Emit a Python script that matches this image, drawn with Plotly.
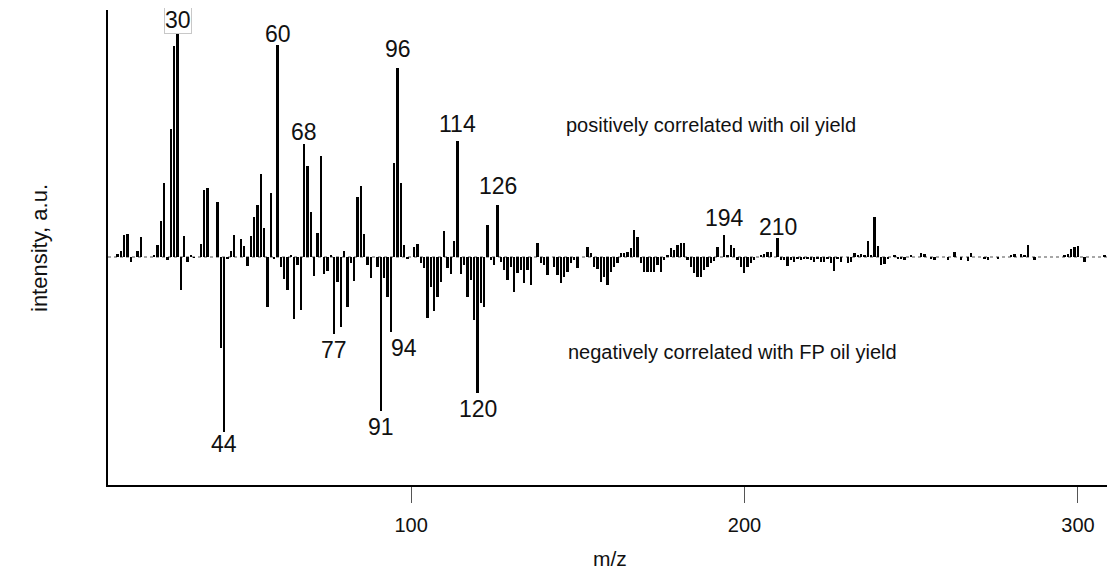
import plotly.graph_objects as go

# m/z positions (integer masses)
mz = list(range(12, 311))

# intensities (a.u.), in chunks
int_12_59 = [3, 6, 22, 23, -5, 0, 6, 20, 0, 0, 0, 2, 12, 36, 74, -3, 128, 211, 224, -33,
             21, -5, 2, -1, 0, 13, 67, 69, 0, 0, 55, -91, -175, -2, 6, 22, 0, 18, 11, -9,
             21, 40, 52, 83, 29, -50, 64, -2]
int_60_109 = [212, -10, -22, -33, 2, -62, -8, -53, 113, 91, 45, -19, 24, 101, -17, -14, 2, -77, -25, -70,
              6, -50, -6, -24, 60, 71, 23, -8, -21, 0, -10, -154, -21, -40, -75, 94, 189, 74, 12, -2,
              0, 10, 13, -6, -11, -61, -30, -54, -40, -25]
int_110_159 = [26, -11, -17, 16, 116, -17, -8, -40, -23, -63, -136, -46, -50, 32, -3, -8, 52, -5, -13, -23,
               -10, -35, -16, -13, -26, -13, -28, 0, 14, -6, -8, -18, 0, -10, -18, -26, -20, -15, -6, -3,
               -11, 0, 0, 10, 4, -10, -12, -25, -20, -28]
int_160_209 = [-15, -10, -6, 4, 4, 5, 9, 27, 20, -6, -15, -15, -15, -15, -8, -15, -3, 2, 9, 7,
               12, 14, 14, -3, -10, -16, -20, -20, -13, -10, -6, -4, 10, 0, 22, 2, 12, 9, -3, -10,
               -16, -10, -6, -3, 0, 2, 3, 5, 5, 0]
int_210_259 = [19, -3, -3, -9, -3, -5, -2, -3, -2, -2, -3, -5, -2, -5, -5, -2, -6, -14, -2, -5,
               0, -6, -5, 4, 2, 3, 2, 16, 2, 40, 11, -8, -7, -2, 0, 2, -2, -2, -3, 0,
               2, 0, 0, 4, 3, 0, -2, -3, 0, 0]
int_260_310 = [0, -3, 0, 5, 0, -3, 0, -4, 4, 0, 0, 0, -2, -3, 0, 0, -2, 0, 0, 0,
               2, 3, 0, 3, 2, 12, 0, -3, 0, 0, 0, 0, 0, 0, 0, 0, 2, 3, 8, 10,
               11, 0, -5, 0, 0, 0, 0, 0, 2, 0, 5]

intensity = int_12_59 + int_60_109 + int_110_159 + int_160_209 + int_210_259 + int_260_310

# labelled peaks
pos_labels = [30, 60, 68, 96, 114, 126, 194, 210]
neg_labels = [44, 77, 91, 94, 120]
label_xshift = {94: 13}
label_yshift = {96: 7, 114: 5, 126: 7, 194: 5, 60: -1, 210: -1, 44: 4}

tick_vals = [100, 200, 300]

FONT = "Liberation Sans, Arial, sans-serif"

val = dict(zip(mz, intensity))

fig = go.Figure()
fig.add_trace(go.Bar(x=mz, y=intensity, width=0.55,
                     marker=dict(color="black", line=dict(width=0)),
                     hoverinfo="x+y"))

fig.add_shape(type="line", xref="paper", yref="y", x0=0, x1=1, y0=0, y1=0,
              line=dict(color="#8a8a8a", width=1.5, dash="dot"), layer="below")

ann = []
for m in pos_labels:
    a = dict(x=m, y=val[m], text=str(m), showarrow=False, xanchor="center",
             yanchor="bottom", yshift=-3 + label_yshift.get(m, 0),
             font=dict(size=23, color="#111", family=FONT))
    if m == 30:
        a.update(bordercolor="#c8c8c8", borderwidth=1, borderpad=0, yshift=-1)
    ann.append(a)
for m in neg_labels:
    ann.append(dict(x=m, y=val[m], text=str(m), showarrow=False, xanchor="center",
                    yanchor="top", yshift=-1 + label_yshift.get(m, 0), xshift=label_xshift.get(m, 0),
                    font=dict(size=23, color="#111", family=FONT)))

ann.append(dict(x=146, y=132, text="positively correlated with oil yield", showarrow=False,
                xanchor="left", yanchor="middle", font=dict(size=20, color="#111", family=FONT)))
ann.append(dict(x=146.5, y=-95, text="negatively correlated with FP oil yield", showarrow=False,
                xanchor="left", yanchor="middle", font=dict(size=20, color="#111", family=FONT)))
ann.append(dict(xref="paper", yref="paper", x=0.5, y=-0.1537, text="m/z", showarrow=False,
                xanchor="center", yanchor="middle", font=dict(size=21, color="#111", family=FONT)))
ann.append(dict(xref="paper", yref="paper", x=-0.0677, y=0.499, text="intensity, a.u.",
                showarrow=False, textangle=-90, xanchor="center", yanchor="middle",
                font=dict(size=22, color="#111", family=FONT)))

# the page body has an 8px margin, so the figure is sized/offset to compensate
fig.update_layout(
    width=1107, height=562,
    margin=dict(l=100, r=3, t=2, b=85),
    paper_bgcolor="white", plot_bgcolor="white",
    showlegend=False, bargap=0,
    annotations=ann,
    font=dict(family=FONT, color="#111"),
)
fig.update_xaxes(range=[9.1, 310.2], showline=True, linecolor="black", linewidth=1.5,
                 ticks="outside", ticklen=16, tickcolor="#555", tickwidth=1,
                 tickvals=tick_vals, tickfont=dict(size=20, family=FONT, color="#111"),
                 ticklabelstandoff=5, showgrid=False, zeroline=False)
fig.update_yaxes(range=[-228, 247], showline=True, linecolor="black", linewidth=1.5,
                 showticklabels=False, ticks="", showgrid=False, zeroline=False)

fig.write_html("out.html")
